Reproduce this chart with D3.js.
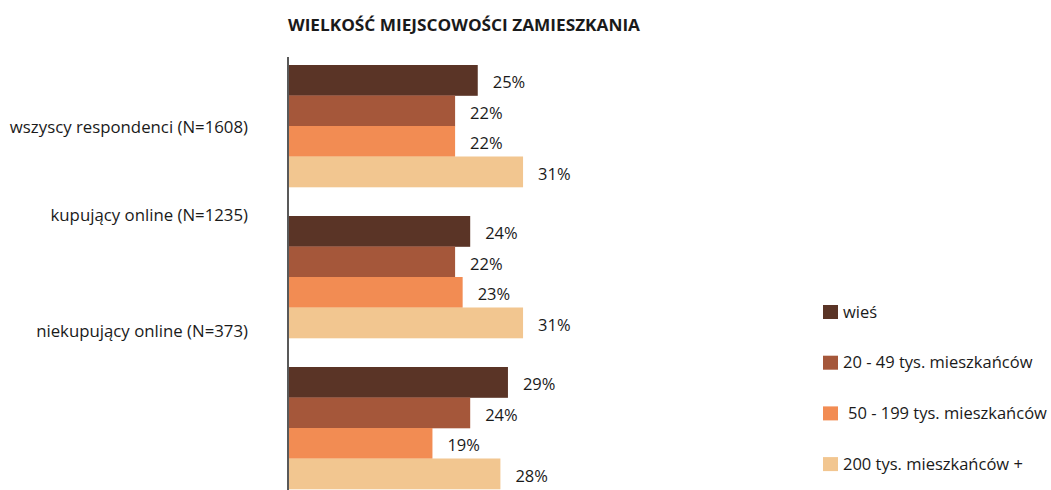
<!DOCTYPE html>
<html>
<head>
<meta charset="utf-8">
<script src="https://cdn.jsdelivr.net/npm/d3@7"></script>
<style>
  html, body { margin: 0; padding: 0; background: #fff; }
  svg { display: block; }
  text { font-family: "Open Sans", "Noto Sans", sans-serif; fill: #1a1a1a; }
</style>
</head>
<body>
<svg id="chart" width="1051" height="490"></svg>
<script>
// Respondent groups (y categories)
const groups = ["wszyscy respondenci (N=1608)", "kupujący online (N=1235)", "niekupujący online (N=373)"];
// Place-of-residence series
const series = ["wieś", "20 - 49 tys. mieszkańców", "50 - 199 tys. mieszkańców", "200 tys. mieszkańców +"];
// Percent values per series, in group order
const wies = [25, 24, 29];
const tys20_49 = [22, 22, 24];
const tys50_199 = [22, 23, 19];
const tys200plus = [31, 31, 28];
const colors = ["#5a3426", "#a5573a", "#f28c53", "#f2c690"];

const values = [wies, tys20_49, tys50_199, tys200plus];
const rows = groups.flatMap((g, gi) => series.map((s, si) => ({ group: g, series: s, si, value: values[si][gi] })));

const svg = d3.select("#chart");

// Title
svg.append("text")
  .attr("x", 288).attr("y", 31)
  .attr("font-size", 16).attr("font-weight", 700)
  .attr("textLength", 352).attr("lengthAdjust", "spacingAndGlyphs")
  .text("WIELKOŚĆ MIEJSCOWOŚCI ZAMIESZKANIA");

const x0 = 289;
const x = d3.scaleLinear().domain([0, 10]).range([x0, x0 + 75.5]);

const y = d3.scaleBand().domain(groups).range([65, 489 + 29]).paddingInner(0).paddingOuter(0);
// each group occupies the band minus the gap between groups
const gap = 29;
const yInner = d3.scaleBand().domain(series).range([0, y.bandwidth() - gap]);

// Bars
svg.append("g").selectAll("rect")
  .data(rows)
  .join("rect")
  .attr("x", x0)
  .attr("y", d => y(d.group) + yInner(d.series))
  .attr("width", d => x(d.value) - x0)
  .attr("height", yInner.bandwidth() + 0.3)
  .attr("fill", d => colors[d.si]);

// Value labels
svg.append("g").selectAll("text")
  .data(rows)
  .join("text")
  .attr("x", d => x(d.value) + 15)
  .attr("y", d => y(d.group) + yInner(d.series) + yInner.bandwidth() / 2 + 2)
  .attr("dy", "0.35em")
  .attr("font-size", 16.5)
  .text(d => d.value + "%");

// Vertical axis line
svg.append("line")
  .attr("x1", 288).attr("x2", 288)
  .attr("y1", 57).attr("y2", 490)
  .attr("stroke", "#222").attr("stroke-width", 1.5);

// Group labels, right-aligned left of the axis
const labelY = [127, 215, 331];
svg.append("g").selectAll("text")
  .data(groups)
  .join("text")
  .attr("x", 248)
  .attr("y", (d, i) => labelY[i])
  .attr("dy", "0.35em")
  .attr("text-anchor", "end")
  .attr("font-size", 16.8)
  .text(d => d);

// Legend
const legend = svg.append("g").attr("transform", "translate(823,312)");
const item = legend.selectAll("g")
  .data(series)
  .join("g")
  .attr("transform", (d, i) => `translate(0,${i * 50.7})`);
item.append("rect")
  .attr("x", 0).attr("y", -7)
  .attr("width", 15).attr("height", 14)
  .attr("fill", (d, i) => colors[i]);
item.append("text")
  .attr("x", (d, i) => i === 2 ? 25 : 20)
  .attr("y", 0)
  .attr("dy", "0.35em")
  .attr("font-size", 16.5)
  .text(d => d);
</script>
</body>
</html>
